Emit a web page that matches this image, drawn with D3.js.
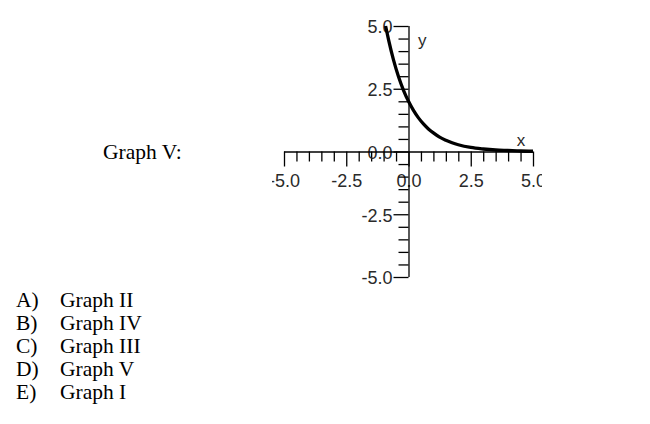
<!DOCTYPE html>
<html>
<head>
<meta charset="utf-8">
<script src="https://cdn.jsdelivr.net/npm/d3@7"></script>
<style>
  html, body { margin: 0; padding: 0; background: #fff; }
  svg { display: block; }
</style>
</head>
<body>
<svg id="chart" width="650" height="424"></svg>
<script>
// ---- data ----
const curveX = [-0.92, -0.8, -0.6, -0.4, -0.2, 0, 0.2, 0.4, 0.6, 0.8, 1.0, 1.25, 1.5, 1.75, 2.0, 2.5, 3.0, 3.5, 4.0, 4.5, 5.0];
const curveY = [5.0, 4.45, 3.64, 2.98, 2.44, 2.0, 1.64, 1.34, 1.10, 0.90, 0.74, 0.57, 0.45, 0.35, 0.27, 0.16, 0.10, 0.06, 0.04, 0.02, 0.01];
const majorTicks = [-5, -2.5, 0, 2.5, 5];
const xTickLabels = ["-5.0", "-2.5", "0.0", "2.5", "5.0"];
const yTickLabels = ["-5.0", "-2.5", "0.0", "2.5", "5.0"];
const minorTicks = [-4.5, -4, -3.5, -3, -2, -1.5, -1, -0.5, 0.5, 1, 1.5, 2, 3, 3.5, 4, 4.5];
const graphTitle = "Graph V:";
const optionLetters = ["A)", "B)", "C)", "D)", "E)"];
const optionTexts = ["Graph II", "Graph IV", "Graph III", "Graph V", "Graph I"];
const axisNames = ["x", "y"];

// ---- drawing ----
const svg = d3.select("#chart");
const x = d3.scaleLinear().domain([-5, 5]).range([284, 533]);
const y = d3.scaleLinear().domain([-5, 5]).range([277, 26]);

const defs = svg.append("defs");
defs.append("clipPath").attr("id", "plotclip")
  .append("rect").attr("x", 272).attr("y", 0).attr("width", 270).attr("height", 300);

const plot = svg.append("g").attr("clip-path", "url(#plotclip)");

const axisFont = "'Liberation Sans', Arial, sans-serif";
const axisTextColor = "#2a2a2a";

// x axis: minor ticks
plot.append("g")
  .attr("transform", `translate(0,${y(0)})`)
  .call(d3.axisBottom(x).tickValues(minorTicks).tickSize(10).tickSizeOuter(0).tickFormat(""))
  .call(g => g.select(".domain").remove());
// x axis: major ticks + labels
const xAx = plot.append("g")
  .attr("transform", `translate(0,${y(0)})`)
  .call(d3.axisBottom(x).tickValues(majorTicks).tickSize(15).tickSizeOuter(0).tickPadding(8)
    .tickFormat((d, i) => xTickLabels[i]));
xAx.select(".domain").remove();

// y axis: minor ticks
plot.append("g")
  .attr("transform", `translate(${x(0)},0)`)
  .call(d3.axisLeft(y).tickValues(minorTicks).tickSize(10).tickSizeOuter(0).tickFormat(""))
  .call(g => g.select(".domain").remove());
// y axis: major ticks + labels
const yAx = plot.append("g")
  .attr("transform", `translate(${x(0)},0)`)
  .call(d3.axisLeft(y).tickValues(majorTicks).tickSize(15).tickSizeOuter(0).tickPadding(1)
    .tickFormat((d, i) => yTickLabels[i]));
yAx.select(".domain").remove();

[xAx, yAx].forEach(a => {
  a.selectAll("text").attr("font-family", axisFont).attr("font-size", 18).attr("fill", axisTextColor);
});
yAx.selectAll("text").attr("dy", "0.38em");
plot.selectAll("line").attr("stroke", "#000").attr("stroke-width", 1.3);

// axis lines
plot.append("line")
  .attr("x1", x(-5)).attr("x2", x(5)).attr("y1", y(0) + 0.5).attr("y2", y(0) + 0.5)
  .attr("stroke", "#000").attr("stroke-width", 1.3);
plot.append("line")
  .attr("x1", x(0) + 0.5).attr("x2", x(0) + 0.5).attr("y1", y(5)).attr("y2", y(-5))
  .attr("stroke", "#000").attr("stroke-width", 1.3);

// axis names
plot.append("text").attr("x", 521).attr("y", 146).attr("text-anchor", "middle")
  .attr("font-family", axisFont).attr("font-size", 17).attr("fill", axisTextColor).text(axisNames[0]);
plot.append("text").attr("x", 418).attr("y", 46)
  .attr("font-family", axisFont).attr("font-size", 17).attr("fill", axisTextColor).text(axisNames[1]);

// curve
const pts = curveX.map((d, i) => [d, curveY[i]]);
plot.append("path")
  .datum(pts)
  .attr("fill", "none")
  .attr("stroke", "#000")
  .attr("stroke-width", 3.3)
  .attr("stroke-linejoin", "round")
  .attr("d", d3.line().x(d => x(d[0])).y(d => y(d[1])).curve(d3.curveMonotoneX));

// text outside plot
const serif = "'Liberation Serif', 'Times New Roman', serif";
svg.append("text").attr("x", 103).attr("y", 159)
  .attr("font-family", serif).attr("font-size", 21.5).attr("fill", "#000").text(graphTitle);

const rows = svg.append("g");
optionLetters.forEach((L, i) => {
  const by = 307 + i * 23;
  rows.append("text").attr("x", 16).attr("y", by)
    .attr("font-family", serif).attr("font-size", 21.5).attr("fill", "#000").text(L);
  rows.append("text").attr("x", 60).attr("y", by)
    .attr("font-family", serif).attr("font-size", 21.5).attr("fill", "#000").text(optionTexts[i]);
});
</script>
</body>
</html>
